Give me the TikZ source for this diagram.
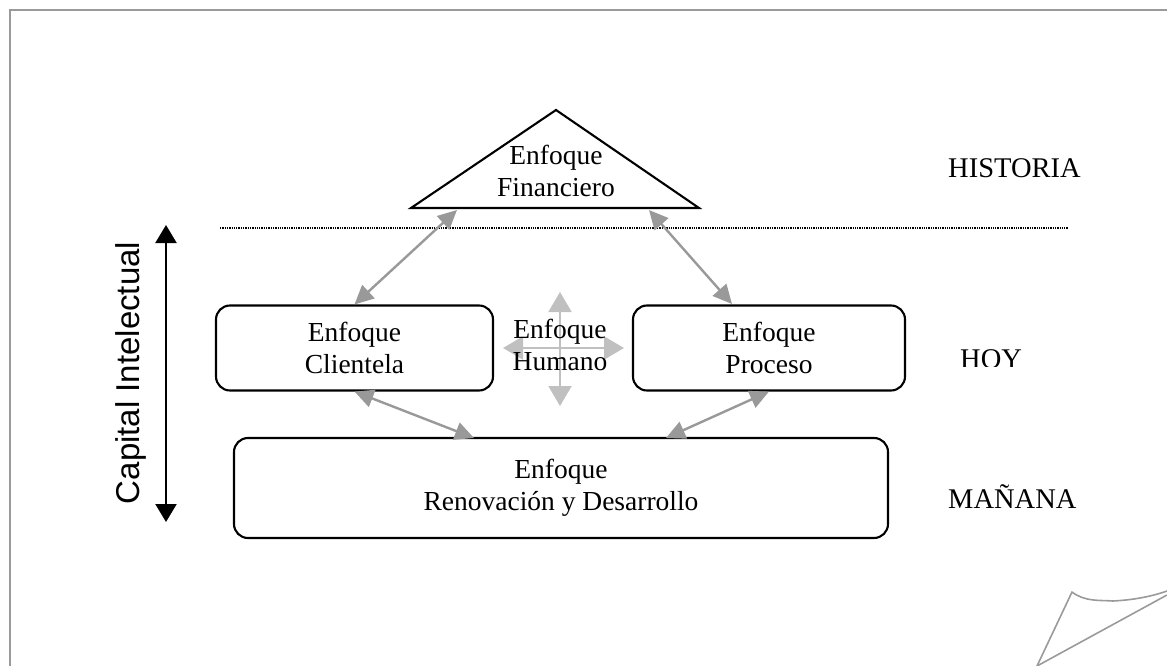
\documentclass[tikz,border=0pt]{standalone}
\usepackage{fontspec}
\setmainfont{Liberation Serif}
\newfontfamily\arialfont{Liberation Sans}
\usetikzlibrary{arrows.meta,calc}
\definecolor{frame}{HTML}{9A9A9A}
\definecolor{garr}{HTML}{999999}
\definecolor{harr}{HTML}{C0C0C0}
\begin{document}
\begin{tikzpicture}[x=1pt,y=-1pt,
  txt/.style={font=\fontsize{27.5}{32}\selectfont, align=center, inner sep=0pt},
  box/.style={draw, line width=2.1pt, rounded corners=14pt, txt},
  garrow/.style={draw=garr, line width=2.4pt, {Triangle[length=19pt,width=18pt]}-{Triangle[length=19pt,width=18pt]}},
  harrow/.style={draw=harr, line width=2pt, {Triangle[length=20pt,width=23pt]}-{Triangle[length=20pt,width=23pt]}},
  karrow/.style={draw=black, line width=2.2pt, {Triangle[length=18pt,width=21pt]}-{Triangle[length=18pt,width=21pt]}},
  lab/.style={font=\fontsize{28.5}{32}\selectfont, inner sep=0pt}
]
\useasboundingbox (0,0) rectangle (1167,666);
% frame
\draw[frame, line width=2.5pt] (10,666) -- (10,10) -- (1167,10);
% page curl
\coordinate (c1) at (1037,666);
\coordinate (c2) at (1072,592);
\coordinate (c3) at (1167,591);
\coordinate (c4) at (1167,595);
\draw[frame, line width=1.6pt, line join=round] (c1) -- (c2) .. controls (1085,602) and (1100,600) .. (1113,601) .. controls (1132,600) and (1150,597) .. (c3);
\draw[frame, line width=1.6pt] (c1) -- (c4);

% triangle
\coordinate (tA) at (556,110);
\coordinate (tL) at (411,208);
\coordinate (tR) at (699,208);
\draw[line width=2.1pt, line join=miter] (tL) -- (tA) -- (tR) -- cycle;
\node[txt] (fin) at (556,171) {Enfoque\\Financiero};

% dotted separator
\coordinate (d1) at (220,228);
\coordinate (d2) at (1068,228);
\draw[densely dotted, line width=1.3pt] (d1) -- (d2);

% boxes
\node[box, minimum width=277pt, minimum height=85pt] (cli) at (354.5,348) {Enfoque\\Clientela};
\node[box, minimum width=272pt, minimum height=85pt] (pro) at (769,348) {Enfoque\\Proceso};
\node[box, minimum width=654pt, minimum height=100pt] (ren) at (561,488) {Enfoque\\Renovación y Desarrollo};

% humano cross
\coordinate (hT) at (560,292);
\coordinate (hB) at (560,406);
\coordinate (hL) at (503,348);
\coordinate (hR) at (624,348);
\draw[harrow] (hT) -- (hB);
\draw[harrow] (hL) -- (hR);
\node[txt] (hum) at (560,345) {Enfoque\\Humano};

% gray connectors
\coordinate (fL) at (457,210);
\coordinate (fR) at (649,210);
\coordinate (pN) at (732,304);
\coordinate (rL) at (474,438);
\coordinate (rR) at (666,438);
\draw[garrow] (fL) -- (cli.north);
\draw[garrow] (fR) -- (pN);
\draw[garrow] (cli.south) -- (rL);
\draw[garrow] (pro.south) -- (rR);

% capital intelectual
\coordinate (kT) at (166,225);
\coordinate (kB) at (166,522);
\draw[karrow] (kT) -- (kB);
\node[rotate=90, inner sep=0pt, font=\arialfont\fontsize{33}{38}\selectfont] (cap) at (131,373) {Capital Intelectual};

% side labels
\node[lab, anchor=base west] (his) at (948,177) {HISTORIA};
\begin{scope}
\clip (940,330) rectangle (1040,366);
\node[lab, anchor=base west] (hoy) at (960,368) {HOY};
\end{scope}
\node[lab, anchor=base west] (man) at (948,508) {MAÑANA};
\end{tikzpicture}
\end{document}
